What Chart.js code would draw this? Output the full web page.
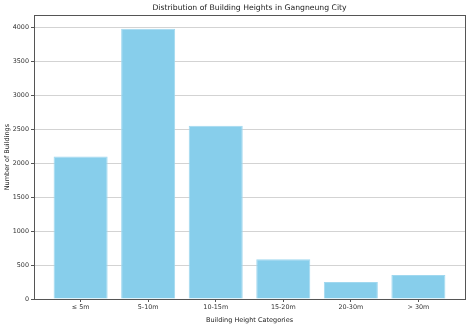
<!DOCTYPE html>
<html>
<head>
<meta charset="utf-8">
<script src="https://cdn.jsdelivr.net/npm/chart.js@4.4.0/dist/chart.umd.min.js"></script>
<style>
  html, body { margin: 0; padding: 0; background: #fff; }
  #wrap { width: 470px; height: 324px; }
</style>
</head>
<body>
<div id="wrap"><canvas id="chart"></canvas></div>
<script>
// categories and counts
var categories = ['≤ 5m', '5-10m', '10-15m', '15-20m', '20-30m', '> 30m'];
var buildingCounts = [2100, 3980, 2550, 585, 250, 355];
var yTicks = [0, 500, 1000, 1500, 2000, 2500, 3000, 3500, 4000];

var font = "'DejaVu Sans', sans-serif";

// box around the plot area (matplotlib style frame)
var frame = {
    id: 'frame',
    afterDraw: function(chart) {
        var a = chart.chartArea, c = chart.ctx;
        c.save();
        c.strokeStyle = '#555';
        c.lineWidth = 1;
        c.strokeRect(Math.round(a.left) + 0.5, Math.round(a.top) + 0.5,
            Math.round(a.right - a.left), Math.round(a.bottom - a.top));
        c.restore();
    }
};

var ctx = document.getElementById('chart').getContext('2d');
var chart = new Chart(ctx, {
    type: 'bar',
    data: {
        datasets: [{
            data: buildingCounts.map(function(v, i) { return {x: i, y: v}; }),
            backgroundColor: '#87CEEB',
            borderColor: '#a0d8ef',
            borderWidth: 1,
            barPercentage: 0.8,
            categoryPercentage: 1
        }]
    },
    plugins: [frame],
    options: {
        responsive: true,
        maintainAspectRatio: false,
        animation: false,
        layout: { padding: { right: 5, left: 0, top: 0, bottom: 0 } },
        plugins: {
            legend: { display: false },
            tooltip: { enabled: false },
            title: {
                display: true,
                fullSize: false,
                text: 'Distribution of Building Heights in Gangneung City',
                color: '#222',
                font: { family: font, size: 7.7, weight: 'normal' },
                padding: { top: 3, bottom: 3 }
            }
        },
        scales: {
            x: {
                type: 'linear',
                offset: false,
                min: -0.69,
                max: 5.69,
                afterBuildTicks: function(axis) {
                    axis.ticks = categories.map(function(c, i) { return {value: i}; });
                },
                afterFit: function(axis) { axis.height = 25; },
                ticks: {
                    callback: function(v) { return categories[v]; },
                    color: '#333',
                    font: { family: font, size: 6.4 },
                    padding: 2,
                    maxRotation: 0
                },
                grid: { offset: false, drawOnChartArea: false, drawTicks: true, tickLength: 3, tickColor: '#555' },
                border: { display: true, color: '#555' },
                title: {
                    display: true,
                    text: 'Building Height Categories',
                    color: '#222',
                    font: { family: font, size: 6.5 },
                    padding: { top: 2, bottom: 0 }
                }
            },
            y: {
                min: 0,
                max: 4179,
                afterBuildTicks: function(axis) {
                    axis.ticks = yTicks.map(function(v) { return {value: v}; });
                },
                afterFit: function(axis) { axis.width = 34; },
                ticks: {
                    callback: function(v) { return String(v); },
                    color: '#333',
                    font: { family: font, size: 6.4 },
                    padding: 2
                },
                grid: { color: '#d3d3d3', tickColor: '#555', tickLength: 3 },
                border: { display: true, color: '#555' },
                title: {
                    display: true,
                    text: 'Number of Buildings',
                    color: '#222',
                    font: { family: font, size: 6.5 },
                    padding: { top: 3, bottom: 1 }
                }
            }
        }
    }
});
</script>
</body>
</html>
